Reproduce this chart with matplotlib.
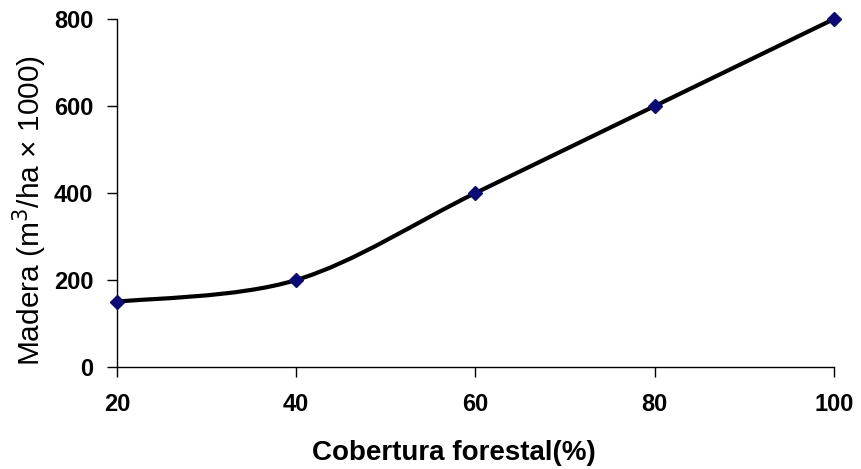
import matplotlib
matplotlib.use("Agg")
import matplotlib.pyplot as plt
from matplotlib.path import Path
from matplotlib.patches import PathPatch

# Data
cobertura = [20, 40, 60, 80, 100]
madera = [150, 200, 400, 600, 800]
x_ticks = [20, 40, 60, 80, 100]
y_ticks = [0, 200, 400, 600, 800]


def smooth_path(xs, ys, k=1 / 6):
    """Excel-style smoothed line as cubic Bezier segments through the points."""
    pts = list(zip(xs, ys))
    verts = [pts[0]]
    codes = [Path.MOVETO]
    n = len(pts)
    for i in range(n - 1):
        p0 = pts[i - 1] if i > 0 else pts[i]
        p1 = pts[i]
        p2 = pts[i + 1]
        p3 = pts[i + 2] if i + 2 < n else pts[i + 1]
        c1 = (p1[0] + (p2[0] - p0[0]) * k, p1[1] + (p2[1] - p0[1]) * k)
        c2 = (p2[0] - (p3[0] - p1[0]) * k, p2[1] - (p3[1] - p1[1]) * k)
        verts += [c1, c2, p2]
        codes += [Path.CURVE4] * 3
    return Path(verts, codes)


plt.rcParams['font.family'] = ['Liberation Sans', 'DejaVu Sans']

fig = plt.figure(figsize=(8.62, 4.69), dpi=100)
ax = fig.add_axes([117 / 862, 1 - 367 / 469, (834 - 117) / 862, (367 - 19) / 469])

# Smoothed black line
ax.add_patch(PathPatch(smooth_path(cobertura, madera), facecolor='none',
                       edgecolor='black', linewidth=3, zorder=2))
# Diamond markers
ax.plot(cobertura, madera, linestyle='none', marker='D', markersize=7,
        color='#0a0a78', zorder=3, clip_on=False)

ax.set_xlim(20, 100)
ax.set_ylim(0, 800)
ax.set_xticks(x_ticks)
ax.set_yticks(y_ticks)
ax.tick_params(axis='both', direction='out', length=7, width=1, labelsize=17)
ax.tick_params(axis='x', pad=12)
ax.tick_params(axis='y', pad=10)
for lbl in ax.get_xticklabels() + ax.get_yticklabels():
    lbl.set_fontweight('bold')

ax.spines['top'].set_visible(False)
ax.spines['right'].set_visible(False)
ax.spines['left'].set_linewidth(1)
ax.spines['bottom'].set_linewidth(1)

ax.set_xlabel('Cobertura forestal(%)', fontsize=20, fontweight='bold')
ax.xaxis.set_label_coords((454 - 117) / 717, -(453 - 367) / 348)
ax.xaxis.label.set_va('center')
ax.set_ylabel('Madera (m$^3$/ha × 1000)', fontsize=21.5)
ax.yaxis.set_label_coords(-(117 - 30) / 717, (367 - 210) / 348)
ax.yaxis.label.set_va('center')

plt.savefig('out.png', dpi=100)
plt.close(fig)
